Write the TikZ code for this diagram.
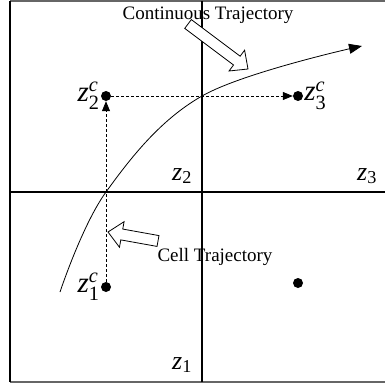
\documentclass[tikz,border=0pt]{standalone}
\usepackage{amsmath}
\usepackage{fontspec}
\setmainfont{Liberation Serif}
\usepackage{tikz}
\usetikzlibrary{shapes,arrows.meta,positioning,calc}

\newcommand{\zlab}[2]{\textit{z}$_{\text{#1}}^{\textit{#2}}$}
% hollow block arrow from #1 (tail) to #2 (tip)
\newcommand{\hollowarrow}[2]{%
    \coordinate (hb) at ($(#2)!14pt!(#1)$);
    \draw[hollow] ($(#1)!5.5pt!90:(#2)$) -- ($(hb)!5.5pt!90:(#2)$) -- ($(hb)!13pt!90:(#2)$)
        -- (#2) -- ($(hb)!13pt!-90:(#2)$) -- ($(hb)!5.5pt!-90:(#2)$) -- ($(#1)!5.5pt!-90:(#2)$) -- cycle;}

\tikzset{
    celldot/.style={circle, fill=black, inner sep=0pt, minimum size=10pt},
    gridline/.style={line width=1.6pt},
    hollow/.style={draw=black, fill=white, line width=0.8pt, line join=miter},
    zlabel/.style={font=\fontsize{26}{26}\selectfont, inner sep=0.5pt},
    centrelabel/.style={font=\fontsize{29}{29}\selectfont, inner sep=0pt},
    caption/.style={font=\fontsize{19}{19}\selectfont, inner sep=1pt},
    cellstep/.style={densely dashed, line width=0.8pt, -{Triangle[length=10pt,width=8pt]}},
}

\begin{document}
\begin{tikzpicture}[x=1pt, y=-1pt]
    \useasboundingbox (0,0) rectangle (384,385);
    % cells
    \draw[line width=1.2pt, black!60] (384.5,1) -- (10,1);
    \draw[line width=1.6pt, black!60] (10,382) -- (384.5,382);
    \draw[line width=1.2pt] (10,1) -- (10,382);
    \draw[gridline] (202,1) -- (202,382);
    \draw[gridline] (10,192) -- (384.5,192);

    % cell centres
    \node[celldot] (z2c) at (106,96) {};
    \node[celldot] (z3c) at (298,96) {};
    \node[celldot] (z1c) at (106,287) {};
    \node[celldot] (z4c) at (298,283) {};

    \node[centrelabel, left=1pt of z2c] {\zlab{2}{c}};
    \node[centrelabel, right=1pt of z3c] {\zlab{3}{c}};
    \node[centrelabel, left=1pt of z1c] {\zlab{1}{c}};

    % cell labels
    \node[zlabel] (z2) at (182,176) {\textit{z}$_{\text{2}}$};
    \node[zlabel] (z3) at (367,176) {\textit{z}$_{\text{3}}$};
    \node[zlabel] (z1) at (182,365) {\textit{z}$_{\text{1}}$};

    % cell trajectory
    \draw[cellstep] (z1c) -- (z2c);
    \draw[cellstep] (z2c) -- (z3c);

    % continuous trajectory
    \draw[line width=0.8pt, -{Triangle[length=13pt,width=10pt]}]
        plot[smooth, tension=0.6] coordinates {(60,292) (106,192) (202,96) (362,46)};

    % captions with hollow arrows
    \node[caption] (conttext) at (208,15) {Continuous Trajectory};
    \coordinate (conttail) at (188,24);
    \coordinate (conttip) at (248,69);
    \hollowarrow{conttail}{conttip}
    \node[caption] (celltext) at (215,257) {Cell Trajectory};
    \coordinate (celltail) at (158,241);
    \coordinate (celltip) at (108,232);
    \hollowarrow{celltail}{celltip}
\end{tikzpicture}
\end{document}
